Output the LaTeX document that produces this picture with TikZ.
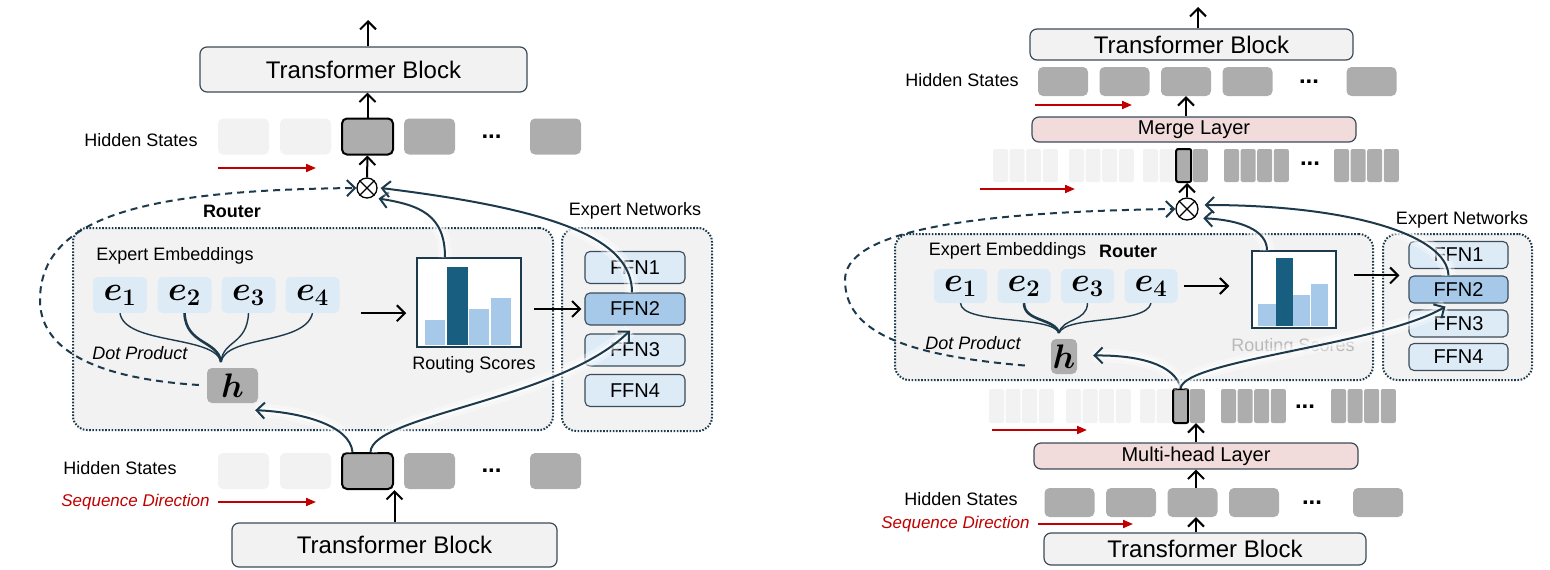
\documentclass[tikz,border=0pt]{standalone}
\usepackage{fix-cm}
\usepackage{fontspec}
\setmainfont{Liberation Sans}
\usepackage{bm}
\usetikzlibrary{arrows.meta, positioning}

\definecolor{panelgray}{HTML}{F2F2F2}
\definecolor{tokgray}{HTML}{ADADAD}
\definecolor{paleblue}{HTML}{DDEBF7}
\definecolor{midblue}{HTML}{A6C9EA}
\definecolor{deepblue}{HTML}{175E80}
\definecolor{navy}{HTML}{1D3A4C}
\definecolor{seqred}{HTML}{C00000}
\definecolor{pinkfill}{HTML}{F2DCDB}
\definecolor{edgegray}{HTML}{3B4B59}

\begin{document}
\begin{tikzpicture}[x=1pt, y=-1pt,
		every node/.style={inner sep=0pt},
		blockbox/.style={rectangle,rounded corners=7pt,draw=edgegray,line width=1.2pt,fill=panelgray,font=\fontsize{24}{26}\selectfont},
		layerbox/.style={blockbox,fill=pinkfill,font=\fontsize{20}{22}\selectfont},
		bigtok/.style={rectangle,rounded corners=5pt,fill=tokgray,minimum width=51pt,minimum height=36pt},
		faintok/.style={bigtok,fill=panelgray},
		pickedtok/.style={bigtok,draw=black,line width=2pt},
		flattok/.style={bigtok,minimum width=50pt,minimum height=29pt},
		thintok/.style={rectangle,rounded corners=2pt,fill=tokgray,minimum width=15pt,minimum height=33pt},
		thinfaint/.style={thintok,fill=panelgray},
		thinpicked/.style={thintok,draw=black,line width=2pt},
		groupbox/.style={rectangle,rounded corners=14pt,draw=navy,line width=2pt,dash pattern=on 1.6pt off 1.6pt,fill=panelgray},
		embbox/.style={rectangle,rounded corners=5pt,fill=paleblue,minimum width=54pt,minimum height=36pt,font=\fontsize{34}{36}\selectfont},
		hbox/.style={rectangle,rounded corners=5pt,fill=tokgray,font=\fontsize{34}{36}\selectfont},
		ffnbox/.style={rectangle,rounded corners=5pt,draw=edgegray,line width=1.1pt,fill=paleblue,minimum width=100pt,minimum height=32pt,font=\fontsize{20}{22}\selectfont},
		histbox/.style={rectangle,draw=navy,line width=1.5pt,fill=white},
		lbl/.style={font=\fontsize{18}{20}\selectfont},
		boldlbl/.style={font=\fontsize{18}{20}\selectfont\bfseries},
		dotlbl/.style={font=\fontsize{24}{26}\selectfont\bfseries},
		seqlbl/.style={font=\fontsize{17}{19}\selectfont\itshape,text=seqred},
		seqarr/.style={-{Triangle[length=10pt,width=8pt]},draw=seqred,line width=2pt},
		flowarr/.style={-{Straight Barb[length=8pt,width=16pt]},line width=2pt},
		glowarr/.style={-{Straight Barb[length=8pt,width=16pt]},draw=navy,line width=2pt,
			preaction={draw=white,line width=14pt,opacity=0.35,-},
			preaction={draw=white,line width=7pt,opacity=0.6,-}},
		backarr/.style={-{Straight Barb[length=8pt,width=16pt]},draw=navy,line width=2pt,dash pattern=on 7pt off 5pt},
		brace/.style={draw=navy,line width=1.4pt},
		multnode/.style={circle,draw=black,line width=1.3pt,minimum size=20pt}
		]
		\useasboundingbox (0,0) rectangle (1550,570);

		% ---- left: one token per position ----
		\node[blockbox, minimum width=327pt, minimum height=45pt](Ltb) at (363.5,69.5){Transformer Block};
		\coordinate (Lout) at (368,20);
		\draw[flowarr] (Lout |- Ltb.north) -- (Lout);

		\node[lbl](Lhs) at (141,140){Hidden States};
		\node[faintok](Lt1) at (243.5,136.5){};
		\node[faintok, right of = Lt1, node distance=62pt](Lt2){};
		\node[pickedtok, right of = Lt2, node distance=62pt](Lt3){};
		\node[bigtok, right of = Lt3, node distance=62pt](Lt4){};
		\node[dotlbl, right of = Lt4, node distance=62pt](Ldots){...};
		\node[bigtok, right of = Ldots, node distance=64pt](Lt5){};
		\draw[flowarr] (Lt3.north) -- (Lt3.north |- Ltb.south);
		\coordinate (Lsq) at (218,168);
		\draw[seqarr] (Lsq) -- ++(98,0);

		\node[multnode](Lm) at (367,188){};
		\draw[line width=1.3pt] (Lm.north west) -- (Lm.south east) (Lm.north east) -- (Lm.south west);
		\draw[flowarr] (Lm.north) -- (Lt3.south);

		\node[boldlbl](Lrt) at (232,211){Router};
		\node[groupbox, minimum width=480pt, minimum height=202pt](Lrouter) at (313,329){};
		\node[lbl](Lexn) at (635,211){Expert Networks};
		\node[groupbox, minimum width=150pt, minimum height=203pt](Lexperts) at (637,329.5){};

		\node[lbl](Lemb) at (175,256){Expert Embeddings};
		\node[embbox](Le1) at (120,295){$\bm{e}_{\bm{1}}$};
		\node[embbox, right of = Le1, node distance=64.5pt](Le2){$\bm{e}_{\bm{2}}$};
		\node[embbox, right of = Le2, node distance=64pt](Le3){$\bm{e}_{\bm{3}}$};
		\node[embbox, right of = Le3, node distance=64pt](Le4){$\bm{e}_{\bm{4}}$};
		\node[hbox, minimum width=51pt, minimum height=35pt](Lh) at (232.5,385.5){$\bm{h}$};
		\node[lbl, font=\fontsize{18}{20}\selectfont\itshape](Ldot) at (140,353){Dot Product};
		\coordinate (Ljoin) at (221,362);
		\draw[brace] (Le1.south) .. controls (125,345) and (215,335) .. (Ljoin);
		\draw[brace, line width=2.6pt] (Le2.south) .. controls (186,345) and (218,340) .. (Ljoin);
		\draw[brace] (Le3.south) .. controls (247,345) and (223,340) .. (Ljoin);
		\draw[brace] (Le4.south) .. controls (305,345) and (226,335) .. (Ljoin);

		\node[histbox, minimum width=104pt, minimum height=89pt](Lhist) at (469,302.5){};
		\fill[midblue] (425,320) rectangle (445,345);
		\fill[deepblue] (447,267) rectangle (468,345);
		\fill[midblue] (469,309) rectangle (489,345);
		\fill[midblue] (491,298) rectangle (511,345);
		\node[lbl](Lrs) at (474,365){Routing Scores};
		\draw[flowarr, shorten <=21pt, shorten >=10pt] (Le4.south east) -- (Le4.south east -| Lhist.west);

		\node[ffnbox](Lf1) at (635,267.5){FFN1};
		\node[ffnbox, fill=midblue](Lf2) at (635,309){FFN2};
		\node[ffnbox](Lf3) at (635,350){FFN3};
		\node[ffnbox](Lf4) at (635,390.5){FFN4};
		\draw[flowarr, shorten <=12pt, shorten >=3pt] (Lhist.east |- Lf2) -- (Lf2.west);

		\node[lbl](Lhs2) at (120,468){Hidden States};
		\node[seqlbl](Lseq) at (135.5,502){Sequence Direction};
		\node[faintok](Lb1) at (243.5,471){};
		\node[faintok, right of = Lb1, node distance=62pt](Lb2){};
		\node[pickedtok, right of = Lb2, node distance=62pt](Lb3){};
		\node[bigtok, right of = Lb3, node distance=62pt](Lb4){};
		\node[dotlbl, right of = Lb4, node distance=62pt](Lbdots){...};
		\node[bigtok, right of = Lbdots, node distance=64pt](Lb5){};
		\coordinate (Lsq2) at (218,502);
		\draw[seqarr] (Lsq2) -- ++(98,0);
		\node[blockbox, minimum width=325pt, minimum height=44pt](Ltbb) at (394.5,545){Transformer Block};
		\draw[flowarr] (Ltbb.north) -- (Ltbb.north |- Lb3.south);

		\draw[backarr, shorten <=8pt] (Lh.west) .. controls (120,380) and (40,360) .. (40,300)
			.. controls (40,215) and (150,190) .. (Lm.west);
		\draw[glowarr] ([shift={(-15,0)}]Lb3.north) .. controls (350,425) and (300,412) .. ([shift={(-3,7)}]Lh.south east);
		\draw[glowarr] ([shift={(3,0)}]Lb3.north) .. controls (372,415) and (560,400) .. ([shift={(-5,5)}]Lf2.south);
		\draw[glowarr] ([shift={(-24,0)}]Lhist.north) .. controls (445,215) and (420,205) .. ([shift={(4,3)}]Lm.south east);
		\draw[glowarr] ([shift={(-3,0)}]Lf2.north) .. controls (632,240) and (560,210) .. ([shift={(3,0)}]Lm.east);

		% ---- right: several heads per position ----
		\node[blockbox, minimum width=323pt, minimum height=31pt](Rtb) at (1191.5,44.5){Transformer Block};
		\coordinate (Rout) at (1198,7);
		\draw[flowarr] (Rout |- Rtb.north) -- (Rout);

		\node[lbl](Rhs) at (962,80){Hidden States};
		\node[flattok](Rt1) at (1063,81.5){};
		\node[flattok, right of = Rt1, node distance=61.5pt](Rt2){};
		\node[flattok, right of = Rt2, node distance=61.5pt](Rt3){};
		\node[flattok, right of = Rt3, node distance=61.5pt](Rt4){};
		\node[dotlbl, right of = Rt4, node distance=61.5pt](Rdots){...};
		\node[flattok, right of = Rdots, node distance=62.5pt](Rt5){};
		\coordinate (Rsq) at (1035,105);
		\draw[seqarr] (Rsq) -- ++(97,0);

		\node[layerbox, minimum width=324pt, minimum height=25pt](Rmerge) at (1194,129.5){Merge Layer};
		\draw[flowarr] (Rt3.south |- Rmerge.north) -- (Rt3.south);

		\foreach \g/\gx in {1/993,2/1069}
			\foreach \i in {1,...,4}
				\node[thinfaint](Ru\g\i) at ({\gx+7.5+(\i-1)*16.6},165.5){};
		\node[thinfaint](Ru31) at (1150.5,165.5){};
		\node[thinfaint, right of = Ru31, node distance=16.6pt](Ru32){};
		\node[thinpicked, right of = Ru32, node distance=16.6pt](Ru33){};
		\node[thintok, right of = Ru33, node distance=16.6pt](Ru34){};
		\foreach \g/\gx in {4/1224,5/1334}
			\foreach \i in {1,...,4}
				\node[thintok](Ru\g\i) at ({\gx+7.5+(\i-1)*16.6},165.5){};
		\node[dotlbl](Rudots) at (1310,164){...};
		\coordinate (Rsq2) at (980,189);
		\draw[seqarr] (Rsq2) -- ++(95,0);

		\node[multnode, minimum size=22pt](Rm) at (1187,209){};
		\draw[line width=1.3pt] (Rm.north west) -- (Rm.south east) (Rm.north east) -- (Rm.south west);
		\draw[flowarr] (Rm.north) -- (Rm.north |- Ru33.south);

		\node[groupbox, minimum width=478pt, minimum height=146pt](Rrouter) at (1134,307){};
		\node[lbl](Rexn) at (1462,220){Expert Networks};
		\node[groupbox, minimum width=149pt, minimum height=146pt](Rexperts) at (1457.5,307){};

		\node[lbl](Remb) at (1007.5,251){Expert Embeddings};
		\node[boldlbl](Rrt) at (1128,251){Router};
		\node[embbox, minimum width=53pt, minimum height=34pt](Re1) at (960.5,286){$\bm{e}_{\bm{1}}$};
		\node[embbox, minimum width=53pt, minimum height=34pt, right of = Re1, node distance=63.5pt](Re2){$\bm{e}_{\bm{2}}$};
		\node[embbox, minimum width=53pt, minimum height=34pt, right of = Re2, node distance=63.5pt](Re3){$\bm{e}_{\bm{3}}$};
		\node[embbox, minimum width=53pt, minimum height=34pt, right of = Re3, node distance=63.5pt](Re4){$\bm{e}_{\bm{4}}$};
		\node[hbox, minimum width=26pt, minimum height=35pt](Rh) at (1064,356.5){$\bm{h}$};
		\node[lbl, font=\fontsize{18}{20}\selectfont\itshape](Rdot) at (973,343){Dot Product};
		\coordinate (Rjoin) at (1059,333);
		\draw[brace] (Re1.south) .. controls (962,325) and (1052,315) .. (Rjoin);
		\draw[brace, line width=2.6pt] (Re2.south) .. controls (1024,322) and (1055,318) .. (Rjoin);
		\draw[brace] (Re3.south) .. controls (1087,322) and (1062,318) .. (Rjoin);
		\draw[brace] (Re4.south) .. controls (1146,325) and (1066,315) .. (Rjoin);

		\node[histbox, minimum width=84pt, minimum height=77pt](Rhist) at (1294,289.5){};
		\fill[midblue] (1258,304) rectangle (1276,326);
		\fill[deepblue] (1276,258) rectangle (1293,326);
		\fill[midblue] (1293,295) rectangle (1310,326);
		\fill[midblue] (1311,284) rectangle (1328,326);
		\node[lbl, text=gray!55](Rrs) at (1293,347){Routing Scores};
		\draw[flowarr, shorten <=6pt, shorten >=22pt] (Re4.east) -- (Re4.east -| Rhist.west);

		\node[ffnbox, minimum width=99pt, minimum height=27pt](Rf1) at (1458.5,255){FFN1};
		\node[ffnbox, minimum width=99pt, minimum height=27pt, fill=midblue](Rf2) at (1458.5,289.5){FFN2};
		\node[ffnbox, minimum width=99pt, minimum height=27pt](Rf3) at (1458.5,323.5){FFN3};
		\node[ffnbox, minimum width=99pt, minimum height=27pt](Rf4) at (1458.5,357){FFN4};
		\draw[flowarr, shorten <=17pt, shorten >=9pt] (Rhist.east |- Rf2.north) -- (Rf2.north west);

		\foreach \g/\gx in {1/989,2/1066}
			\foreach \i in {1,...,4}
				\node[thinfaint, minimum height=34pt](Rl\g\i) at ({\gx+7.5+(\i-1)*16.6},406){};
		\node[thinfaint, minimum height=34pt](Rl31) at (1147.5,406){};
		\node[thinfaint, minimum height=34pt, right of = Rl31, node distance=16.6pt](Rl32){};
		\node[thinpicked, minimum height=34pt, right of = Rl32, node distance=16.6pt](Rl33){};
		\node[thintok, minimum height=34pt, right of = Rl33, node distance=16.6pt](Rl34){};
		\foreach \g/\gx in {4/1221,5/1331}
			\foreach \i in {1,...,4}
				\node[thintok, minimum height=34pt](Rl\g\i) at ({\gx+7.5+(\i-1)*16.6},406){};
		\node[dotlbl](Rldots) at (1305,407){...};
		\coordinate (Rsq3) at (992,430);
		\draw[seqarr] (Rsq3) -- ++(95,0);

		\node[layerbox, minimum width=324pt, minimum height=26pt](Rmh) at (1196,456){Multi-head Layer};
		\draw[flowarr] (Rmh.north) -- (Rmh.north |- Rl34.south);

		\node[lbl](Rhs2) at (961,499){Hidden States};
		\node[seqlbl](Rseq) at (955.5,524){Sequence Direction};
		\node[flattok](Rb1) at (1069.5,502.5){};
		\node[flattok, right of = Rb1, node distance=61.5pt](Rb2){};
		\node[flattok, right of = Rb2, node distance=61.5pt](Rb3){};
		\node[flattok, right of = Rb3, node distance=61.5pt](Rb4){};
		\node[dotlbl, right of = Rb4, node distance=58pt](Rbdots){...};
		\node[flattok, right of = Rbdots, node distance=66pt](Rb5){};
		\draw[flowarr] (Rmh.south |- Rb3.north) -- (Rmh.south);
		\coordinate (Rsq4) at (1038,524);
		\draw[seqarr] (Rsq4) -- ++(95,0);
		\node[blockbox, minimum width=322pt, minimum height=32pt](Rtbb) at (1205,549){Transformer Block};
		\draw[flowarr] (Rmh.south |- Rtbb.north) -- (Rmh.south |- Rb3.south);

		\draw[backarr] ([shift={(-26,9)}]Rh.west) .. controls (900,355) and (845,330) .. (845,280)
			.. controls (845,235) and (950,212) .. (Rm.west);
		\draw[glowarr] (Rl33.north) .. controls (1175,365) and (1140,355) .. ([shift={(16,-1)}]Rh.east);
		\draw[glowarr] (Rl33.north) .. controls (1185,360) and (1380,345) .. ([shift={(-13,3)}]Rf2.south);
		\draw[glowarr] ([shift={(-27,0)}]Rhist.north) .. controls (1267,230) and (1240,220) .. ([shift={(8,1)}]Rm.south east);
		\draw[glowarr] ([shift={(-10,0)}]Rf2.north) .. controls (1447,235) and (1350,205) .. ([shift={(6,-4)}]Rm.east);
	\end{tikzpicture}
\end{document}
